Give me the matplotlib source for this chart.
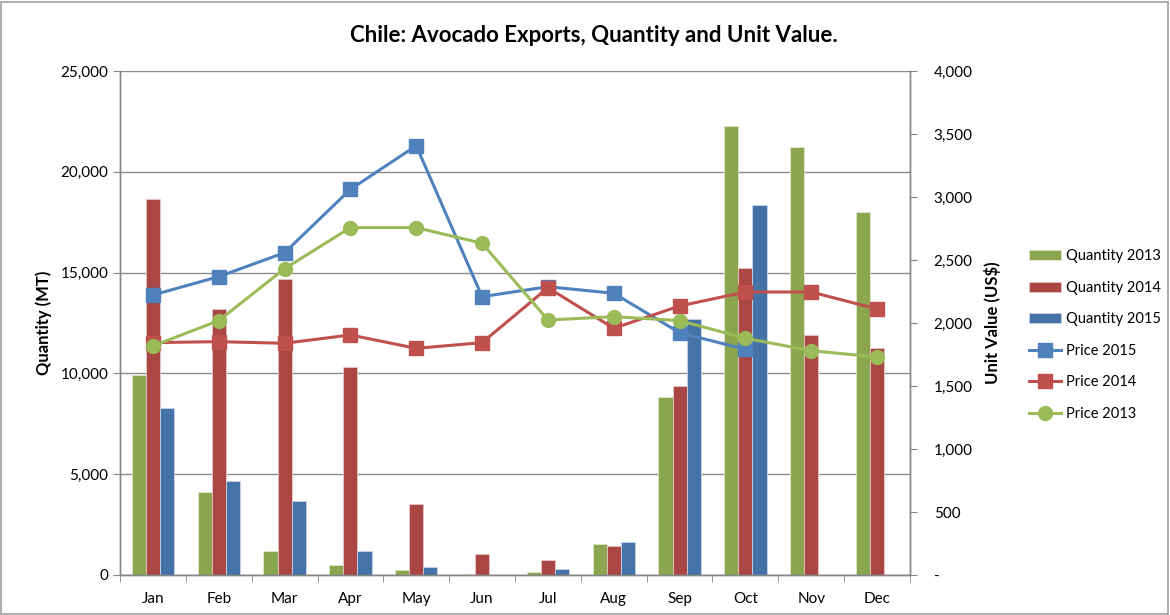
import matplotlib
matplotlib.use("Agg")
import matplotlib.pyplot as plt
import numpy as np
from matplotlib.ticker import FuncFormatter, MultipleLocator
from matplotlib.patches import Rectangle

months = ["Jan", "Feb", "Mar", "Apr", "May", "Jun", "Jul", "Aug", "Sep", "Oct", "Nov", "Dec"]
qty_2013 = [9920, 4100, 1200, 520, 250, 50, 150, 1540, 8850, 22270, 21240, 18020]
qty_2014 = [18630, 13190, 14680, 10330, 3520, 1040, 750, 1460, 9380, 15240, 11890, 11280]
qty_2015 = [8300, 4650, 3670, 1180, 400, 0, 300, 1650, 12700, 18340, 0, 0]
price_2015 = [2222, 2368, 2558, 3061, 3407, 2209, 2288, 2236, 1923, 1791]
price_2014 = [1844, 1852, 1839, 1905, 1799, 1844, 2280, 1958, 2135, 2246, 2246, 2111]
price_2013 = [1818, 2019, 2431, 2757, 2757, 2633, 2024, 2050, 2019, 1879, 1780, 1730]

plt.rcParams['font.family'] = ['Lato', 'DejaVu Sans']

fig = plt.figure(figsize=(11.7, 6.15), dpi=100)
ax = fig.add_axes([120/1170, 1-575/615, 790/1170, 504/615])
ax2 = ax.twinx()

x = np.arange(len(months))
w = 0.215
c_g, c_r, c_b = "#8BA64F", "#AA4643", "#4572A7"
ax.bar(x - w, qty_2013, w, color=c_g, edgecolor="#DDE8C8", linewidth=0.6, label="Quantity 2013", zorder=2)
ax.bar(x, qty_2014, w, color=c_r, edgecolor="#E8C8C8", linewidth=0.6, label="Quantity 2014", zorder=2)
ax.bar(x + w, qty_2015, w, color=c_b, edgecolor="#C8D4E8", linewidth=0.6, label="Quantity 2015", zorder=2)

ax2.plot(x[:len(price_2015)], price_2015, color="#4F81BD", lw=2.2, marker="s", ms=10, label="Price 2015")
ax2.plot(x, price_2014, color="#C0504D", lw=2.2, marker="s", ms=10, label="Price 2014")
ax2.plot(x, price_2013, color="#9BBB59", lw=2.2, marker="o", ms=10, label="Price 2013")

ax.set_xlim(-0.5, 11.5)
ax.set_ylim(0, 25000)
ax2.set_ylim(0, 4000)
ax.yaxis.set_major_locator(MultipleLocator(5000))
ax2.yaxis.set_major_locator(MultipleLocator(500))
ax.yaxis.set_major_formatter(FuncFormatter(lambda v, p: f"{int(v):,}"))
ax2.yaxis.set_major_formatter(FuncFormatter(lambda v, p: "-" if v == 0 else f"{int(v):,}"))

ax.set_xticks(x)
ax.set_xticklabels(months)
ax.set_xticks(np.arange(-0.5, 12, 1), minor=True)
ax.tick_params(axis="x", which="major", length=0, labelsize=11, pad=12)
ax.tick_params(axis="x", which="minor", length=5, color="#868686", direction="out")
ax.tick_params(axis="y", length=5, color="#868686", labelsize=11, direction="out")
ax2.tick_params(axis="y", length=5, color="#868686", labelsize=11, direction="out", pad=12)

ax.grid(axis="y", color="#8C8C8C", lw=1.0, zorder=0)
ax.set_axisbelow(True)
for a in (ax, ax2):
    a.spines["top"].set_visible(False)
    for s in ("left", "right", "bottom"):
        a.spines[s].set_color("#868686")
        a.spines[s].set_linewidth(1.0)

ax.set_ylabel("Quantity (MT)", fontsize=12, fontweight="bold", labelpad=6)
ax2.set_ylabel("Unit Value (US$)", fontsize=12, fontweight="bold", labelpad=8)

fig.text(594/1170, 1-35/615, "Chile: Avocado Exports, Quantity and Unit Value.", ha="center", va="center",
         fontsize=16, fontweight="bold")

h1, l1 = ax.get_legend_handles_labels()
h2, l2 = ax2.get_legend_handles_labels()
fig.legend(h1 + h2, l1 + l2, loc="center left", bbox_to_anchor=(1016/1170, 1-335/615), frameon=False,
           fontsize=10.5, labelspacing=1.2, handlelength=2.2, handletextpad=0.35)

fig.patches.append(Rectangle((0.001, 0.002), 0.997, 0.995, transform=fig.transFigure, fill=False,
                             edgecolor="#A0A0A0", lw=1.2))

fig.savefig("out.png", dpi=100)
